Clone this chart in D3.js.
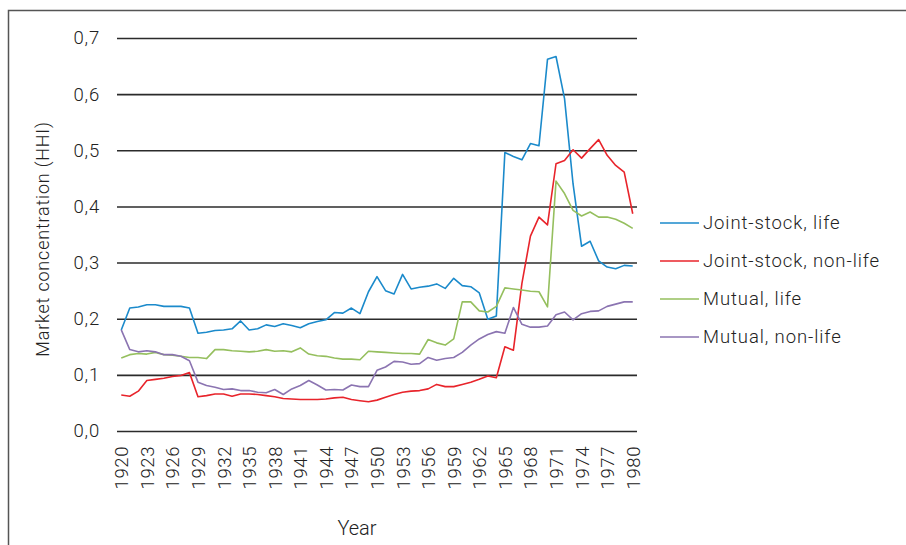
<!DOCTYPE html>
<html>
<head>
<meta charset="utf-8">
<script src="https://cdn.jsdelivr.net/npm/d3@7"></script>
<style>
  body { margin: 0; background: #fff; }
  svg { display: block; font-family: Roboto, "Open Sans", sans-serif; font-weight: 300; }
</style>
</head>
<body>
<svg id="chart"></svg>
<script>
//years on the category axis
const years = d3.range(1920, 1981);

//series values, 1920..1980
const jointStockLife = [
  0.180, 0.219, 0.221, 0.225, 0.225, 0.222, 0.222, 0.222, 0.219, 0.174,
  0.176, 0.179, 0.180, 0.182, 0.196, 0.180, 0.182, 0.189, 0.186, 0.191,
  0.188, 0.184, 0.191, 0.195, 0.198, 0.211, 0.210, 0.219, 0.209, 0.248,
  0.275, 0.250, 0.244, 0.279, 0.253, 0.256, 0.258, 0.262, 0.254, 0.272,
  0.259, 0.257, 0.246, 0.199, 0.205, 0.496, 0.489, 0.483, 0.512, 0.508,
  0.662, 0.667, 0.592, 0.440, 0.329, 0.338, 0.303, 0.292, 0.289, 0.295,
  0.294
];
const jointStockNonLife = [
  0.064, 0.062, 0.071, 0.090, 0.092, 0.094, 0.097, 0.099, 0.104, 0.061,
  0.063, 0.066, 0.066, 0.062, 0.066, 0.066, 0.065, 0.063, 0.061, 0.058,
  0.057, 0.056, 0.056, 0.056, 0.057, 0.059, 0.060, 0.056, 0.054, 0.052,
  0.055, 0.060, 0.065, 0.069, 0.071, 0.072, 0.075, 0.083, 0.079, 0.079,
  0.083, 0.087, 0.092, 0.098, 0.095, 0.150, 0.144, 0.263, 0.347, 0.381,
  0.367, 0.476, 0.482, 0.501, 0.486, 0.503, 0.519, 0.491, 0.473, 0.461,
  0.387
];
const mutualLife = [
  0.130, 0.136, 0.138, 0.137, 0.140, 0.136, 0.135, 0.133, 0.131, 0.131,
  0.129, 0.145, 0.145, 0.143, 0.142, 0.141, 0.142, 0.145, 0.142, 0.143,
  0.141, 0.148, 0.137, 0.134, 0.133, 0.130, 0.128, 0.128, 0.127, 0.142,
  0.141, 0.140, 0.139, 0.138, 0.138, 0.137, 0.163, 0.157, 0.153, 0.164,
  0.230, 0.230, 0.214, 0.212, 0.222, 0.255, 0.253, 0.251, 0.249, 0.248,
  0.221, 0.445, 0.423, 0.393, 0.383, 0.390, 0.381, 0.381, 0.377, 0.370,
  0.361
];
const mutualNonLife = [
  0.180, 0.145, 0.141, 0.143, 0.141, 0.136, 0.136, 0.133, 0.125, 0.087,
  0.081, 0.078, 0.074, 0.075, 0.072, 0.072, 0.069, 0.068, 0.074, 0.065,
  0.075, 0.081, 0.090, 0.082, 0.073, 0.074, 0.073, 0.082, 0.079, 0.079,
  0.108, 0.114, 0.124, 0.123, 0.119, 0.120, 0.131, 0.126, 0.129, 0.131,
  0.140, 0.153, 0.164, 0.172, 0.177, 0.174, 0.220, 0.190, 0.185, 0.185,
  0.187, 0.207, 0.212, 0.198, 0.209, 0.213, 0.214, 0.222, 0.226, 0.230,
  0.230
];

const seriesNames = ["Joint-stock, life", "Joint-stock, non-life", "Mutual, life", "Mutual, non-life"];
const seriesColors = ["#1b8acb", "#e8242b", "#95bf5e", "#8b74b1"];
const yTicks = [0, 0.1, 0.2, 0.3, 0.4, 0.5, 0.6, 0.7];
const yearTicks = d3.range(1920, 1981, 3);

const series = [jointStockLife, jointStockNonLife, mutualLife, mutualNonLife];

const width = 906, height = 545;
const svg = d3.select("#chart")
  .attr("width", width)
  .attr("height", height);

//frame round the figure (top and left edges visible)
svg.append("path")
  .attr("d", `M8.5,545 V10.5 H906`)
  .attr("fill", "none")
  .attr("stroke", "#555")
  .attr("stroke-width", 1.5);

const x = d3.scalePoint()
  .domain(years)
  .range([117, 637])
  .padding(0.5);

const y = d3.scaleLinear()
  .domain([0, 0.7])
  .range([431, 38]);

//horizontal grid
svg.append("g")
  .attr("transform", "translate(117,0)")
  .call(d3.axisLeft(y)
    .tickValues(yTicks)
    .tickSize(-520)
    .tickFormat(""))
  .call(g => g.select(".domain").remove())
  .call(g => g.selectAll("line")
    .attr("stroke", "#2b2b2b")
    .attr("stroke-width", 1.6));

//y tick labels
svg.append("g")
  .attr("transform", "translate(100,0)")
  .call(d3.axisLeft(y)
    .tickValues(yTicks)
    .tickSize(0)
    .tickPadding(0)
    .tickFormat(d => d3.format(".1f")(d).replace(".", ",")))
  .call(g => g.select(".domain").remove())
  .call(g => g.selectAll("text")
    .attr("fill", "#222")
    .style("font-family", "Roboto, sans-serif")
    .style("font-weight", "300")
    .style("font-size", "18.5px")
    .style("letter-spacing", "0.8px"));

//x tick labels, rotated
svg.append("g")
  .attr("transform", "translate(0,431)")
  .call(d3.axisBottom(x)
    .tickValues(yearTicks)
    .tickSize(0)
    .tickPadding(0))
  .call(g => g.select(".domain").remove())
  .call(g => g.selectAll("text")
    .attr("transform", "rotate(-90)")
    .attr("text-anchor", "end")
    .attr("x", -15)
    .attr("y", 0)
    .attr("dy", "0.35em")
    .attr("fill", "#222")
    .style("font-family", "Roboto, sans-serif")
    .style("font-weight", "300")
    .style("font-size", "18.5px")
    .style("letter-spacing", "0.6px"));

//lines
const line = d3.line()
  .x((d, i) => x(years[i]))
  .y(d => y(d));

svg.append("g")
  .selectAll("path")
  .data(series)
  .join("path")
  .attr("d", line)
  .attr("fill", "none")
  .attr("stroke", (d, i) => seriesColors[i])
  .attr("stroke-width", 1.6)
  .attr("stroke-linejoin", "round");

//axis titles
svg.append("text")
  .attr("transform", "translate(49,239) rotate(-90)")
  .attr("text-anchor", "middle")
  .attr("fill", "#222")
  .style("font-size", "18px")
  .style("letter-spacing", "0.8px")
  .text("Market concentration (HHI)");

svg.append("text")
  .attr("x", 357)
  .attr("y", 535)
  .attr("text-anchor", "middle")
  .attr("fill", "#222")
  .style("font-size", "20px")
  .text("Year");

//legend
const legend = svg.append("g")
  .selectAll("g")
  .data(seriesNames)
  .join("g")
  .attr("transform", (d, i) => `translate(660,${223 + i * 38})`);

legend.append("line")
  .attr("x1", 0)
  .attr("x2", 39)
  .attr("stroke", (d, i) => seriesColors[i])
  .attr("stroke-width", 1.6);

legend.append("text")
  .attr("x", 43)
  .attr("dy", "0.35em")
  .attr("fill", "#222")
  .style("font-size", "18.5px")
  .style("letter-spacing", "0.9px")
  .text(d => d);
</script>
</body>
</html>
